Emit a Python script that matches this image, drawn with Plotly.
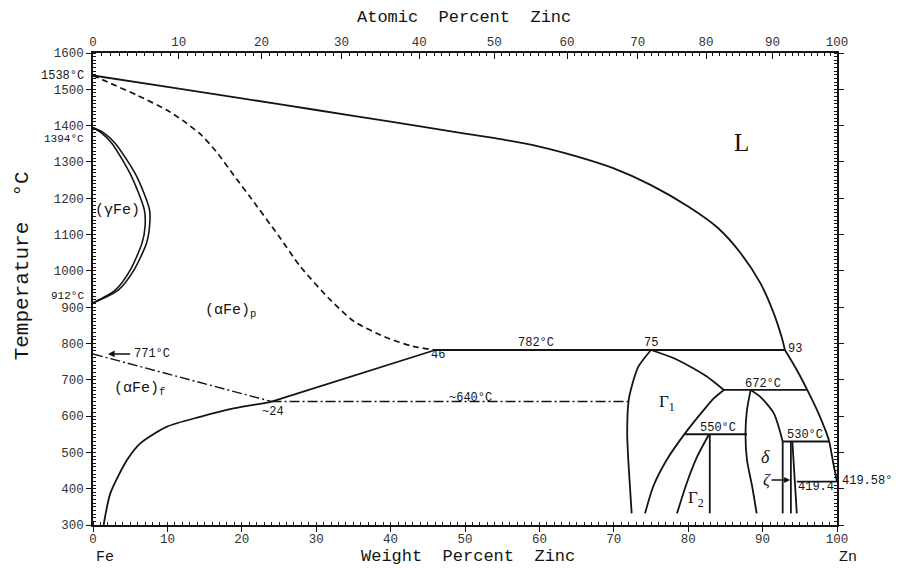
import plotly.graph_objects as go

# ---------------- data (weight % Zn, temperature °C) ----------------
liquidus_wt = [0, 10, 20, 30, 40, 50, 55, 60, 65, 70, 75, 80, 84, 87, 89.7, 91.5, 92.6, 93.0]
liquidus_T = [1538, 1507, 1475, 1443, 1411, 1378, 1362, 1342, 1315, 1282, 1236, 1177, 1118, 1050, 966, 883, 815, 782]

zn_liquidus_wt = [93.0, 94.6, 96.0, 97.5, 98.9, 99.5, 100]
zn_liquidus_T = [782, 727, 672, 608, 534, 470, 419.58]

alpha_dashed_wt = [0, 2.3, 6, 9.9, 12, 14.4, 16.5, 19.4, 21.1, 25, 27.9, 31.9, 35, 39.1, 43, 46]
alpha_dashed_T = [1538, 1517, 1483, 1443, 1415, 1377, 1330, 1250, 1204, 1095, 1011, 920, 862, 819, 792, 782]

gamma_inner_wt = [0, 1.0, 2.55, 5.2, 6.9, 7.0, 6.6, 5.0, 3.0, 0]
gamma_inner_T = [1394, 1382, 1351, 1259, 1168, 1122, 1077, 1002, 947, 912]
gamma_outer_wt = [0, 1.3, 3.0, 5.9, 7.6, 7.6, 7.2, 5.5, 3.4, 0]
gamma_outer_T = [1394, 1382, 1351, 1259, 1168, 1122, 1077, 1002, 947, 912]

curie_wt = [0, 24]
curie_T = [771, 640]
eutectoid_wt = [24, 72.0]
eutectoid_T = [640, 640]

solvus_wt = [1.43, 2.33, 4.57, 6.36, 9.95, 14.4, 18.9, 23.4, 24]
solvus_T = [300, 387, 479, 525, 571, 598, 621, 637, 640]
alpha_upper_wt = [24, 46]
alpha_upper_T = [640, 782]

gamma1_left_wt = [75, 73.3, 72.4, 72.0, 71.8, 72.0, 72.4]
gamma1_left_T = [782, 736, 681, 644, 553, 461, 332]
gamma1_right_up_wt = [75, 78, 80.3, 82.5, 84.8]
gamma1_right_up_T = [782, 760, 736, 709, 672]
gamma1_right_lo_wt = [84.8, 83.5, 82.1, 79.6, 77.1, 75.3, 74.2]
gamma1_right_lo_T = [672, 650, 617, 553, 479, 406, 332]
gamma2_left_wt = [82.8, 81.2, 79.8, 78.5]
gamma2_left_T = [550, 488, 415, 332]
gamma2_right_wt = [82.9, 82.9]
gamma2_right_T = [550, 332]
delta_left_wt = [88.4, 87.9, 87.7, 87.9, 88.6, 89.2]
delta_left_T = [672, 617, 553, 479, 406, 332]
delta_right_wt = [88.4, 89.7, 91.5, 92.7]
delta_right_T = [672, 653, 608, 530]
zeta_left_wt = [92.7, 92.7]
zeta_left_T = [530, 332]
zeta_right_wt = [93.8, 93.8]
zeta_right_T = [530, 332]
eta_wt = [94.0, 94.3, 94.6]
eta_T = [530, 430, 332]

iso_782_wt = [46, 93]
iso_672_wt = [84.8, 96.0]
iso_550_wt = [79.6, 87.9]
iso_530_wt = [92.7, 98.9]
iso_419_wt = [94.6, 100]

# phase / point labels: (wt %, T, text, size, font)
MONO = "Liberation Mono"
SERIF = "Liberation Serif"
inside_labels = [
    (3.3, 1165, "(γFe)", 15, MONO),
    (18.5, 890, "(αFe)<sub>p</sub>", 15, MONO),
    (6.2, 674, "(αFe)<sub>f</sub>", 15, MONO),
    (24.2, 612, "~24", 12, MONO),
    (46.4, 768, "46", 12, MONO),
    (59.5, 800, "782°C", 12, MONO),
    (75, 800, "75", 12, MONO),
    (94.4, 784, "93", 12, MONO),
    (50.7, 651, "~640°C", 12, MONO),
    (77.2, 636, "Γ<sub>1</sub>", 17, SERIF),
    (90.1, 687, "672°C", 12, MONO),
    (84.0, 568, "550°C", 12, MONO),
    (95.7, 547, "530°C", 12, MONO),
    (90.4, 488, "<i>δ</i>", 18, SERIF),
    (81.1, 373, "Γ<sub>2</sub>", 17, SERIF),
    (97.2, 404, "419.4", 12, MONO),
    (87.2, 1353, "L", 25, SERIF),
]

top_major_at = [0, 10, 20, 30, 40, 50, 60, 70, 80, 90, 100]
bottom_ticks = [0, 10, 20, 30, 40, 50, 60, 70, 80, 90, 100]
left_ticks = list(range(300, 1601, 100))

M_FE, M_ZN = 55.845, 65.38


def at_to_wt(a):
    return 100.0 * a * M_ZN / (a * M_ZN + (100 - a) * M_FE)


# ---------------- figure ----------------
fig = go.Figure()
INK = "#141414"


def curve(x, y, width=1.8, dash="solid", smooth=True):
    fig.add_trace(go.Scatter(
        x=x, y=y, mode="lines", hoverinfo="skip", showlegend=False,
        line=dict(color=INK, width=width, dash=dash,
                  shape="spline" if smooth else "linear", smoothing=0.7)))


curve(liquidus_wt, liquidus_T)
curve(zn_liquidus_wt, zn_liquidus_T)
curve(alpha_dashed_wt, alpha_dashed_T, width=1.7, dash="6px,4px")
curve(gamma_inner_wt, gamma_inner_T, width=1.6)
curve(gamma_outer_wt, gamma_outer_T, width=1.6)
curve(curie_wt, curie_T, width=1.4, dash="10px,3px,2px,3px", smooth=False)
curve(eutectoid_wt, eutectoid_T, width=1.4, dash="10px,3px,2px,3px", smooth=False)
curve(solvus_wt, solvus_T)
curve(alpha_upper_wt, alpha_upper_T, smooth=False)
curve(gamma1_left_wt, gamma1_left_T)
curve(gamma1_right_up_wt, gamma1_right_up_T)
curve(gamma1_right_lo_wt, gamma1_right_lo_T)
curve(gamma2_left_wt, gamma2_left_T)
curve(gamma2_right_wt, gamma2_right_T, smooth=False)
curve(delta_left_wt, delta_left_T)
curve(delta_right_wt, delta_right_T)
curve(zeta_left_wt, zeta_left_T, smooth=False)
curve(zeta_right_wt, zeta_right_T, smooth=False)
curve(eta_wt, eta_T)
curve(iso_782_wt, [782, 782], smooth=False)
curve(iso_672_wt, [672, 672], smooth=False)
curve(iso_550_wt, [550, 550], smooth=False)
curve(iso_530_wt, [530, 530], smooth=False)
curve(iso_419_wt, [419.58, 419.58], smooth=False)

# dummy traces so the top (atomic %) axes are drawn
for ax in ("x2", "x3"):
    fig.add_trace(go.Scatter(x=[0, 100], y=[None, None], xaxis=ax, yaxis="y",
                             mode="lines", hoverinfo="skip", showlegend=False))

for (x, y, t, s, f) in inside_labels:
    fig.add_annotation(x=x, y=y, text=t, showarrow=False,
                       font=dict(family=f, size=s, color=INK))

# arrows
fig.add_annotation(x=2.0, y=771, ax=5.2, ay=771, axref="x", ayref="y", text="",
                   showarrow=True, arrowhead=2, arrowsize=0.9, arrowwidth=1.5, arrowcolor=INK)
fig.add_annotation(x=5.3, y=771, text="771°C", showarrow=False, xanchor="left",
                   font=dict(family=MONO, size=12, color=INK))
fig.add_annotation(x=93.7, y=424, ax=91.0, ay=424, axref="x", ayref="y", text="",
                   showarrow=True, arrowhead=2, arrowsize=0.8, arrowwidth=1.5, arrowcolor=INK)
fig.add_annotation(x=90.6, y=424, text="<i>ζ</i>", showarrow=False,
                   font=dict(family=SERIF, size=17, color=INK))

# labels outside the plot area
outside = [
    (-0.01, 1538, "1538°C", "right", 12),
    (-0.01, 1362, "1394°C", "right", 11),
    (-0.01, 931, "912°C", "right", 11),
    (1.004, 421, "419.58°C", "left", 12),
]
for (x, y, t, anc, s) in outside:
    fig.add_annotation(x=x, y=y, xref="paper", yref="y", text=t, showarrow=False,
                       xanchor=anc, yanchor="middle",
                       font=dict(family=MONO, size=s, color=INK))

paper_texts = [
    (0.504, -0.0657, "Weight  Percent  Zinc", 17, 0),
    (0.499, 1.076, "Atomic  Percent  Zinc", 17, 0),
    (-0.0954, 0.548, "Temperature  °C", 21, -90),
    (0.016, -0.0678, "Fe", 15, 0),
    (1.015, -0.0678, "Zn", 15, 0),
]
for (x, y, t, s, ang) in paper_texts:
    fig.add_annotation(x=x, y=y, xref="paper", yref="paper", text=t, textangle=ang,
                       showarrow=False, xanchor="center", yanchor="middle",
                       font=dict(family=MONO, size=s, color=INK))

tickfont = dict(family=MONO, size=12.5, color="#333")
top_major_pos = [at_to_wt(a) for a in top_major_at]
top_minor_pos = [at_to_wt(a) for a in range(0, 101)]

# page body has an 8px margin: figure is shrunk so the plot area lands where the reference has it
fig.update_layout(
    width=893, height=560,
    margin=dict(l=85, r=64, t=45, b=43),
    paper_bgcolor="white", plot_bgcolor="white",
    showlegend=False,
    xaxis=dict(range=[0, 100], tickvals=bottom_ticks, ticks="outside", ticklen=5,
               tickwidth=1.2, tickcolor=INK, showline=True, linecolor=INK, linewidth=1.5,
               mirror=True, showgrid=False, zeroline=False, tickfont=tickfont,
               ticklabelstandoff=-4,
               minor=dict(dtick=1, ticks="inside", ticklen=3, tickcolor=INK, showgrid=False)),
    xaxis2=dict(range=[0, 100], overlaying="x", side="top", anchor="y",
                tickvals=top_major_pos, ticktext=[str(a) for a in top_major_at],
                ticks="inside", ticklen=6, tickwidth=1.2, tickcolor=INK,
                ticklabelstandoff=4,
                showgrid=False, zeroline=False, showline=False, tickfont=tickfont),
    xaxis3=dict(range=[0, 100], overlaying="x", side="top", anchor="y",
                tickvals=top_minor_pos, ticks="inside", ticklen=3, tickcolor=INK,
                showticklabels=False, showgrid=False, zeroline=False, showline=False),
    yaxis=dict(range=[300, 1600], tickvals=left_ticks, ticks="outside", ticklen=5,
               tickwidth=1.2, tickcolor=INK, showline=True, linecolor=INK, linewidth=1.5,
               mirror="ticks", showgrid=False, zeroline=False, tickfont=tickfont,
               minor=dict(dtick=10, ticks="inside", ticklen=3, tickcolor=INK, showgrid=False)),
)

fig.write_html("out.html")
